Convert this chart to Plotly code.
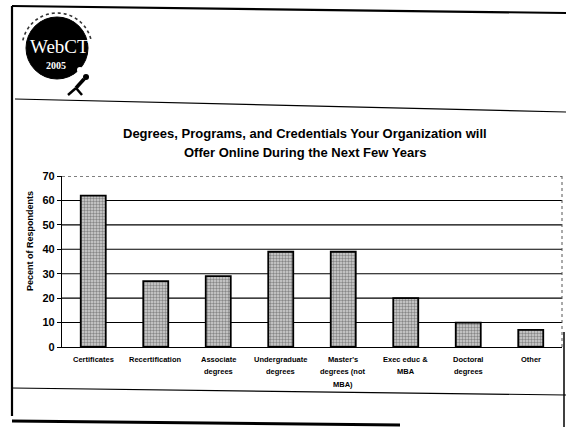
import numpy as np
import plotly.graph_objects as go

# Survey data
categories = ["Certificates", "Recertification", "Associate\ndegrees",
              "Undergraduate\ndegrees", "Master's\ndegrees (not\nMBA)",
              "Exec educ &\nMBA", "Doctoral\ndegrees", "Other"]
percent = [62, 27, 29, 39, 39, 20, 10, 7]
y_ticks = [0, 10, 20, 30, 40, 50, 60, 70]

title_lines = ["Degrees, Programs, and Credentials Your Organization will",
               "Offer Online During the Next Few Years"]
y_title = "Pecent of Respondents"

W, H = 566, 427
L, R, T, B = 62, 4, 176, 80
FONT = "Liberation Sans, Arial, sans-serif"


def px(x, y):
    """Page pixel -> paper coordinates."""
    return (x - L) / (W - L - R), (H - B - y) / (H - T - B)


fig = go.Figure(go.Bar(
    x=list(range(len(categories))),
    y=percent,
    marker=dict(
        color="#c8c8c8",
        line=dict(color="black", width=1.8),
        pattern=dict(shape=".", fgcolor="#3a3a3a", bgcolor="#d4d4d4",
                     size=3, solidity=0.5, fillmode="overlay"),
    ),
    hoverinfo="skip",
))

shapes = []
# horizontal grid: solid inside, dotted at the top
for v in y_ticks[1:]:
    shapes.append(dict(type="line", xref="paper", yref="y", x0=0, x1=1,
                       y0=v, y1=v, layer="below",
                       line=dict(color="black", width=1.1,
                                 dash="dot" if v == y_ticks[-1] else "solid")))
# dotted right edge of the plot
shapes.append(dict(type="line", xref="paper", yref="paper", x0=1, x1=1,
                   y0=0, y1=1, line=dict(color="#555", width=1, dash="dot")))


def seg(x0, y0, x1, y1, w=1.5, color="black"):
    a, b = px(x0, y0)
    c, d = px(x1, y1)
    shapes.append(dict(type="line", xref="paper", yref="paper",
                       x0=a, y0=b, x1=c, y1=d,
                       line=dict(color=color, width=w)))


# slide frame
seg(12, 6, 566, 13, 2.2)
seg(12, 6, 12, 416, 2.2)
seg(15, 99, 566, 112, 1.2)
seg(12, 388, 566, 395, 1.2)
seg(12, 421, 400, 425, 3)
seg(564, 332, 564, 427, 1.5)

# logo: black disc
cx, cy, r = 57, 48, 31
a0, b0 = px(cx - r, cy + r)
a1, b1 = px(cx + r, cy - r)
shapes.append(dict(type="circle", xref="paper", yref="paper",
                   x0=a0, y0=b0, x1=a1, y1=b1, fillcolor="black",
                   line=dict(color="black", width=1)))
# small white ball
a0, b0 = px(77, 73)
a1, b1 = px(83, 67)
shapes.append(dict(type="circle", xref="paper", yref="paper",
                   x0=a0, y0=b0, x1=a1, y1=b1, fillcolor="white",
                   line=dict(color="white", width=0)))
# ring of small lettering around the top of the disc
ang = np.linspace(np.pi * 0.93, np.pi * 0.07, 60)
pts = [px(cx + (r + 4) * np.cos(t), cy - (r + 4) * np.sin(t)) for t in ang]
path = "M " + " L ".join(f"{p[0]:.4f},{p[1]:.4f}" for p in pts)
shapes.append(dict(type="path", xref="paper", yref="paper", path=path,
                   line=dict(color="#333", width=1.6, dash="dot")))
# little figure pushing the disc
seg(84, 79, 76, 88, 3.5)
seg(76, 88, 68, 95, 2.5)
seg(76, 88, 82, 95, 2.5)
seg(82, 82, 88, 76, 2)
a0, b0 = px(83, 80)
a1, b1 = px(89, 74)
shapes.append(dict(type="circle", xref="paper", yref="paper",
                   x0=a0, y0=b0, x1=a1, y1=b1, fillcolor="black",
                   line=dict(color="black", width=0)))

annotations = []
# title, two lines
for i, line in enumerate(title_lines):
    annotations.append(dict(
        text=line, xref="paper", yref="paper", x=px(305, 0)[0], y=1,
        xanchor="center", yanchor="middle", yshift=43 - 19 * i,
        showarrow=False,
        font=dict(family=FONT, size=13, color="black", weight="bold")))

# category labels, one annotation per line
for i, lab in enumerate(categories):
    for j, part in enumerate(lab.split("\n")):
        annotations.append(dict(
            text=part, x=i, y=0, xref="x", yref="y",
            xanchor="center", yanchor="middle", yshift=-12 - 12.5 * j,
            showarrow=False,
            font=dict(family=FONT, size=7.5, color="black", weight="bold")))

# y-axis title
annotations.append(dict(
    text=y_title, xref="paper", yref="paper",
    x=px(30, 0)[0], y=px(0, 241)[1], textangle=-90,
    xanchor="center", yanchor="middle", showarrow=False,
    font=dict(family=FONT, size=9, color="black", weight="bold")))

# logo lettering
annotations.append(dict(
    text="WebCT", xref="paper", yref="paper",
    x=px(59, 0)[0], y=px(0, 46)[1], xanchor="center", yanchor="middle",
    showarrow=False,
    font=dict(family="Liberation Serif, serif", size=19, color="white")))
annotations.append(dict(
    text="2005", xref="paper", yref="paper",
    x=px(56, 0)[0], y=px(0, 66)[1], xanchor="center", yanchor="middle",
    showarrow=False,
    font=dict(family="Liberation Serif, serif", size=10, color="white",
              weight="bold")))

fig.update_layout(
    width=W, height=H,
    margin=dict(l=L, r=R, t=T, b=B),
    paper_bgcolor="white", plot_bgcolor="white",
    showlegend=False,
    bargap=0.6,
    shapes=shapes,
    annotations=annotations,
    xaxis=dict(range=[-0.5, len(categories) - 0.5], showticklabels=False,
               showgrid=False, zeroline=False, showline=True,
               linecolor="black", linewidth=1.2, ticks=""),
    yaxis=dict(range=[0, 70], tickvals=y_ticks, showgrid=False,
               zeroline=False, showline=True, linecolor="black",
               linewidth=1.2, ticks="outside", ticklen=4,
               tickcolor="black",
               tickfont=dict(family=FONT, size=11, color="black",
                             weight="bold")),
    font=dict(family=FONT, color="black"),
)

fig.write_html("out.html")
